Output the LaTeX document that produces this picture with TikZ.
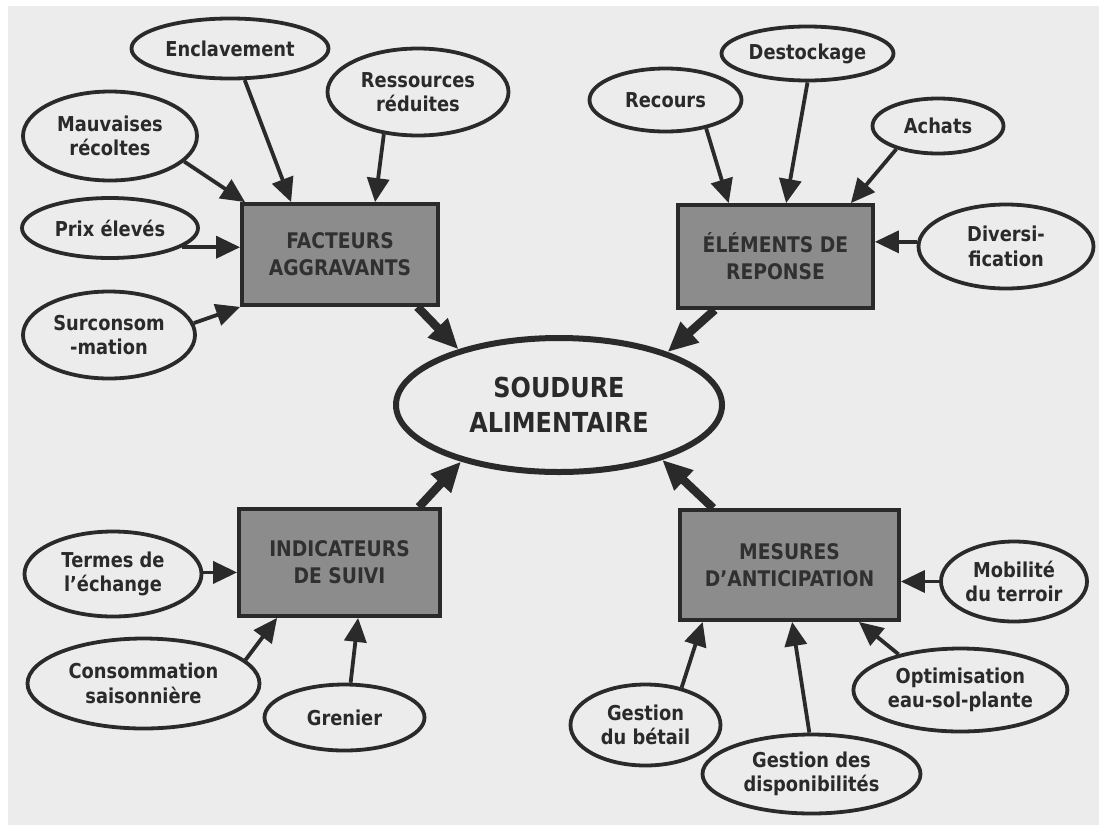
\documentclass[tikz,border=0pt]{standalone}
\usepackage{fontspec}
\setmainfont{DejaVu Sans}[FakeStretch=0.87]
\usetikzlibrary{shapes.geometric,arrows.meta}
\definecolor{bg}{RGB}{236,236,236}
\definecolor{ink}{RGB}{42,42,42}
\definecolor{boxfill}{RGB}{140,140,140}
\definecolor{boxtext}{RGB}{48,48,48}
\begin{document}
\begin{tikzpicture}[x=1pt,y=-1pt,
  ell/.style={ellipse,draw=ink,line width=3.8pt,fill=bg,inner sep=0pt,align=center,text=ink,
    font=\fontsize{20.5}{24.5}\selectfont\bfseries},
  grp/.style={rectangle,draw=ink,line width=3.8pt,fill=boxfill,inner sep=0pt,align=center,text=boxtext,
    font=\fontsize{21.5}{27}\selectfont\bfseries},
  core/.style={ellipse,draw=ink,line width=6pt,fill=bg,inner sep=0pt,align=center,text=ink,
    font=\fontsize{27.5}{35}\selectfont\bfseries},
  arr/.style={draw=ink,line width=3.8pt,-{Triangle[length=24pt,width=22pt]}},
  bigarr/.style={draw=ink,line width=8.5pt,-{Triangle[length=30pt,width=26pt]}}]
\useasboundingbox (0,0) rectangle (1099,825);
\fill[white] (0,0) rectangle (1099,825);
\fill[bg] (8,6) rectangle (1099,825);

% central node
\node[core,minimum width=326pt,minimum height=134pt] (sou) at (559,405) {SOUDURE\\ALIMENTAIRE};

% group boxes
\node[grp,minimum width=196pt,minimum height=101pt] (fa) at (340,254.5) {FACTEURS\\AGGRAVANTS};
\node[grp,minimum width=195pt,minimum height=103pt] (el) at (775.5,256.5) {ÉLÉMENTS DE\\REPONSE};
\node[grp,minimum width=201pt,minimum height=107pt] (ind) at (339.5,562.5) {INDICATEURS\\DE SUIVI};
\node[grp,minimum width=219pt,minimum height=110pt] (mes) at (789.5,565) {MESURES\\D’ANTICIPATION};

% ellipses - facteurs
\node[ell,minimum width=197pt,minimum height=60pt] (enc) at (230,48.5) {Enclavement};
\node[ell,minimum width=181pt,minimum height=87pt] (res) at (418,92) {Ressources\\réduites};
\node[ell,minimum width=174pt,minimum height=89pt] (mau) at (110,136) {Mauvaises\\récoltes};
\node[ell,minimum width=176pt,minimum height=60pt] (prix) at (110,228) {Prix élevés};
\node[ell,minimum width=172pt,minimum height=87pt] (sur) at (109,335) {Surconsom\\-mation};

% ellipses - elements
\node[ell,minimum width=172pt,minimum height=54pt] (des) at (807.5,53.5) {Destockage};
\node[ell,minimum width=152pt,minimum height=63pt] (rec) at (665.5,100) {Recours};
\node[ell,minimum width=131pt,minimum height=55pt] (ach) at (938,126) {Achats};
\node[ell,minimum width=175pt,minimum height=84pt] (div) at (1006,246.5) {Diversi-\\fication};

% ellipses - indicateurs
\node[ell,minimum width=177pt,minimum height=85pt] (ter) at (113,574) {Termes de\\l’échange};
\node[ell,minimum width=232pt,minimum height=90pt] (con) at (143.5,683.5) {Consommation\\saisonnière};
\node[ell,minimum width=160pt,minimum height=66pt] (gre) at (344.5,717.5) {Grenier};

% ellipses - mesures
\node[ell,minimum width=146pt,minimum height=80pt] (mob) at (1014,581.5) {Mobilité\\du terroir};
\node[ell,minimum width=214pt,minimum height=83pt] (opt) at (960.4,690) {Optimisation\\eau-sol-plante};
\node[ell,minimum width=150pt,minimum height=81pt] (bet) at (645.5,725) {Gestion\\du bétail};
\node[ell,minimum width=218pt,minimum height=79pt] (dis) at (811.5,774) {Gestion des\\disponibilités};

% arrows into FACTEURS
\draw[arr] (enc.-65) -- ([xshift=51pt]fa.north west);
\draw[arr] (res.-129) -- ([xshift=135pt]fa.north west);
\draw[arr] (mau.-19) -- ([xshift=5pt]fa.north west);
\draw[arr] (prix.-15) -- (prix.-15 -| fa.west);
\draw[arr] (sur.8) -- (fa.south west);

% arrows into ELEMENTS
\draw[arr] (rec.-35) -- ([xshift=52.6pt]el.north west);
\draw[arr] (des.south) -- ([xshift=110pt]el.north west);
\draw[arr] (ach.-151) -- ([xshift=-24pt]el.north east);
\draw[arr] (div.177) -- (div.177 -| el.east);

% arrows into INDICATEURS
\draw[arr] (ter.1) -- (ter.1 -| ind.west);
\draw[arr] (con.13) -- ([xshift=40pt]ind.south west);
\draw[arr] (gre.80) -- ([xshift=121pt]ind.south west);

% arrows into MESURES
\draw[arr] (mob.west) -- (mob.west -| mes.east);
\draw[arr] (opt.150) -- ([xshift=-42pt]mes.south east);
\draw[arr] (bet.46) -- ([xshift=24.6pt]mes.south west);
\draw[arr] (dis.93) -- ([xshift=114pt]mes.south west);

% thick arrows into SOUDURE
\draw[bigarr] ([xshift=-22.5pt]fa.south east) -- (sou.151);
\draw[bigarr] ([xshift=38.6pt]el.south west) -- (sou.26);
\draw[bigarr] ([xshift=-23pt]ind.north east) -- (sou.-150);
\draw[bigarr] ([xshift=35pt]mes.north west) -- (sou.-28);
\end{tikzpicture}
\end{document}
